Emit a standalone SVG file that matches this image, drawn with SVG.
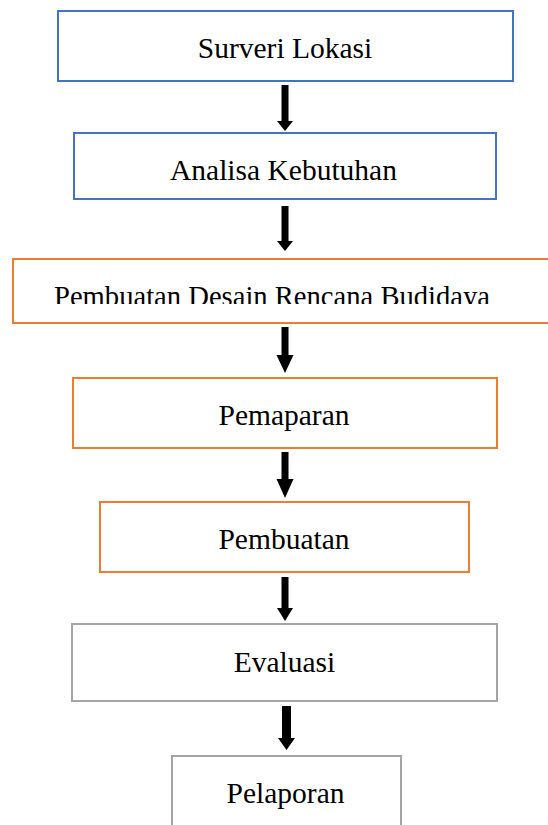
<svg xmlns="http://www.w3.org/2000/svg" width="548" height="825" viewBox="0 0 548 825">
<style>
  .box { fill: #ffffff; stroke-width: 2; }
  .blue { stroke: #4472C4; }
  .orange { stroke: #ED7D31; }
  .gray { stroke: #A5A5A5; }
  .lbl { font-family: "Liberation Serif", "Times New Roman", serif; font-size: 29.5px; fill: #000000; text-anchor: middle; }
  .arr { fill: #000000; }
</style>
<defs>
  <clipPath id="clip3"><rect x="13" y="259" width="540" height="45"/></clipPath>
</defs>
<rect width="548" height="825" fill="#ffffff"/>
<g id="connectors">
  <path class="arr" d="M281.5 85 H288.5 V121 H293 L285 131 L277 121 H281.5 Z"/>
  <path class="arr" d="M281.5 206 H288.5 V241 H293 L285 251 L277 241 H281.5 Z"/>
  <path class="arr" d="M281.5 327 H288.5 V355 H293.5 L285 373 L276.5 355 H281.5 Z"/>
  <path class="arr" d="M281.5 452 H288.5 V479 H293.5 L285 498 L276.5 479 H281.5 Z"/>
  <path class="arr" d="M281.5 577 H288.5 V608 H293 L285 621 L277 608 H281.5 Z"/>
  <path class="arr" d="M282 706 H291 V738 H295 L286.5 750 L278 738 H282 Z"/>
</g>
<g id="node1">
  <rect class="box blue" x="58" y="11" width="455" height="70"/>
  <text class="lbl" x="285" y="58">Surveri Lokasi</text>
</g>
<g id="node2">
  <rect class="box blue" x="74" y="133" width="422" height="66"/>
  <text class="lbl" x="283.5" y="180">Analisa Kebutuhan</text>
</g>
<g id="node3">
  <rect class="box orange" x="13" y="259" width="545" height="64"/>
  <text class="lbl" x="272" y="306" textLength="436" lengthAdjust="spacingAndGlyphs" clip-path="url(#clip3)">Pembuatan Desain Rencana Budidaya</text>
</g>
<g id="node4">
  <rect class="box orange" x="73" y="378" width="424" height="70"/>
  <text class="lbl" x="284" y="425">Pemaparan</text>
</g>
<g id="node5">
  <rect class="box orange" x="100" y="502" width="369" height="70"/>
  <text class="lbl" x="284" y="549">Pembuatan</text>
</g>
<g id="node6">
  <rect class="box gray" x="72" y="624" width="425" height="77"/>
  <text class="lbl" x="284.5" y="672">Evaluasi</text>
</g>
<g id="node7">
  <rect class="box gray" x="172" y="756" width="229" height="80"/>
  <text class="lbl" x="285.5" y="803">Pelaporan</text>
</g>
</svg>
